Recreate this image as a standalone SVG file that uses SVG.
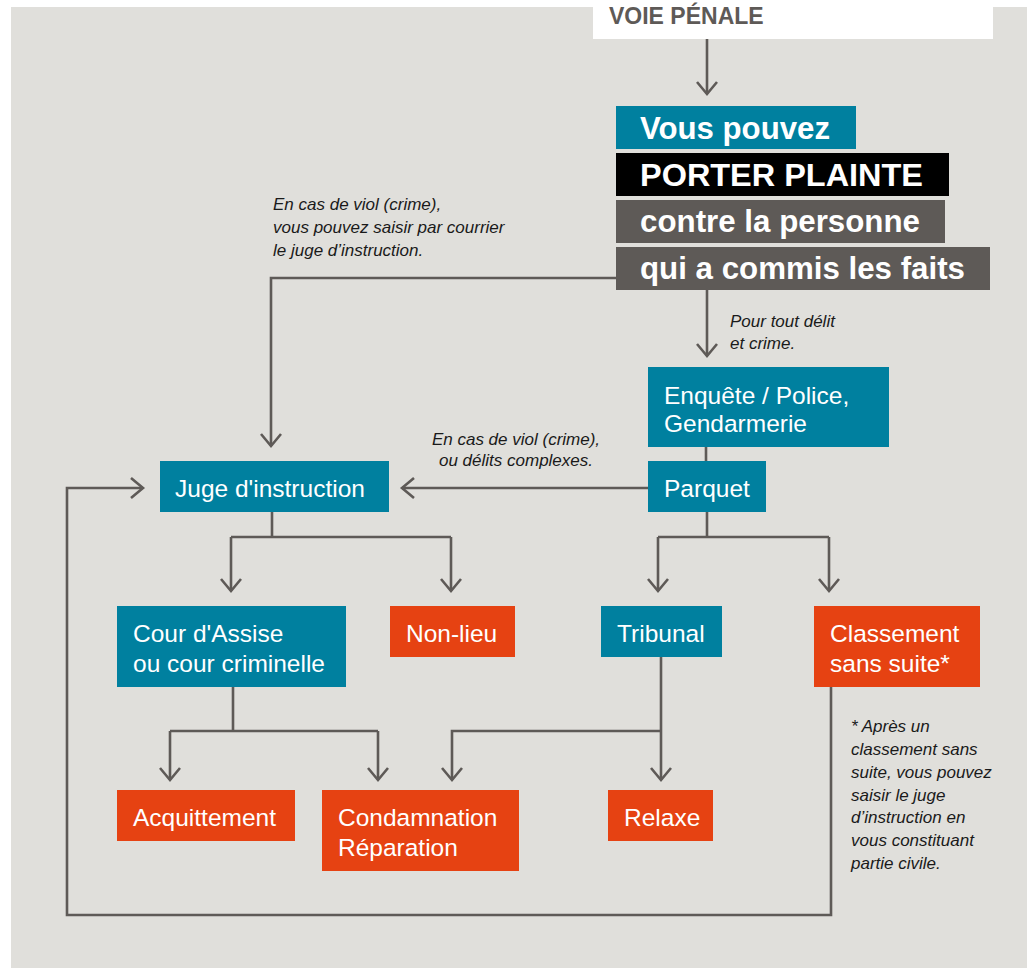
<svg xmlns="http://www.w3.org/2000/svg" width="1027" height="968" viewBox="0 0 1027 968">
  <defs>
    <style>
      .conn { fill: none; stroke: #5E5A57; stroke-width: 2.6; }
      .teal { fill: #00809F; }
      .orange { fill: #E64212; }
      .black { fill: #000000; }
      .dgray { fill: #5E5A57; }
      .lbl { font-family: "Liberation Sans", Arial, sans-serif; font-size: 24.5px; fill: #FFFFFF; }
      .big { font-family: "Liberation Sans", Arial, sans-serif; font-size: 31px; font-weight: bold; fill: #FFFFFF; }
      .note { font-family: "Liberation Sans", Arial, sans-serif; font-size: 17px; font-style: italic; fill: #1A1A1A; }
    </style>
    <marker id="arr" markerUnits="userSpaceOnUse" markerWidth="30" markerHeight="30" viewBox="-15 -15 30 30" refX="0" refY="0" orient="auto">
      <path d="M-12,-10 L0,0 L-12,10" fill="none" stroke="#5E5A57" stroke-width="2.6"/>
    </marker>
  </defs>

  <rect x="11" y="7" width="1016" height="961" fill="#E0DFDB"/>

  <g id="header">
    <rect x="593" y="0" width="400" height="39" fill="#FFFFFF"/>
    <text x="609" y="24" font-family="Liberation Sans, Arial, sans-serif" font-size="23" font-weight="bold" fill="#5E5A57">VOIE PÉNALE</text>
  </g>

  <g id="connectors">
    <path class="conn" d="M707,39 V94" marker-end="url(#arr)"/>
    <path class="conn" d="M616,278 H271 V446" marker-end="url(#arr)"/>
    <path class="conn" d="M707,290 V356" marker-end="url(#arr)"/>
    <path class="conn" d="M706,447 V461"/>
    <path class="conn" d="M648,488 H402" marker-end="url(#arr)"/>
    <path class="conn" d="M272,512 V537 M231,537 H451"/>
    <path class="conn" d="M231,537 V591" marker-end="url(#arr)"/>
    <path class="conn" d="M451,537 V591" marker-end="url(#arr)"/>
    <path class="conn" d="M707,512 V537 M658,537 H829"/>
    <path class="conn" d="M658,537 V591" marker-end="url(#arr)"/>
    <path class="conn" d="M829,537 V591" marker-end="url(#arr)"/>
    <path class="conn" d="M233,687 V731 M170,731 H378"/>
    <path class="conn" d="M170,731 V780" marker-end="url(#arr)"/>
    <path class="conn" d="M378,731 V780" marker-end="url(#arr)"/>
    <path class="conn" d="M661,657 V780" marker-end="url(#arr)"/>
    <path class="conn" d="M661,731 H452 V780" marker-end="url(#arr)"/>
    <path class="conn" d="M831,687 V915 H67 V488 H143" marker-end="url(#arr)"/>
  </g>

  <g id="plainte">
    <rect class="teal" x="616" y="106" width="240" height="43"/>
    <text class="big" x="640" y="139" textLength="190" lengthAdjust="spacingAndGlyphs">Vous pouvez</text>
    <rect class="black" x="616" y="153" width="333" height="43"/>
    <text class="big" x="640" y="186" textLength="283" lengthAdjust="spacingAndGlyphs">PORTER PLAINTE</text>
    <rect class="dgray" x="616" y="200" width="329" height="43"/>
    <text class="big" x="640" y="232" textLength="280" lengthAdjust="spacingAndGlyphs">contre la personne</text>
    <rect class="dgray" x="616" y="247" width="374" height="43"/>
    <text class="big" x="640" y="279" textLength="325" lengthAdjust="spacingAndGlyphs">qui a commis les faits</text>
  </g>

  <g id="note-courrier">
    <text class="note" x="273" y="210">En cas de viol (crime),</text>
    <text class="note" x="273" y="233">vous pouvez saisir par courrier</text>
    <text class="note" x="273" y="256">le juge d’instruction.</text>
  </g>

  <g id="note-delit">
    <text class="note" x="730" y="327">Pour tout délit</text>
    <text class="note" x="730" y="349">et crime.</text>
  </g>

  <g id="enquete">
    <rect class="teal" x="648" y="367" width="241" height="80"/>
    <text class="lbl" x="664" y="404">Enquête / Police,</text>
    <text class="lbl" x="664" y="432">Gendarmerie</text>
  </g>

  <g id="parquet">
    <rect class="teal" x="648" y="461" width="118" height="51"/>
    <text class="lbl" x="664" y="497">Parquet</text>
  </g>

  <g id="note-complexes">
    <text class="note" x="516" y="445" text-anchor="middle">En cas de viol (crime),</text>
    <text class="note" x="516" y="466" text-anchor="middle">ou délits complexes.</text>
  </g>

  <g id="juge">
    <rect class="teal" x="160" y="461" width="229" height="51"/>
    <text class="lbl" x="175" y="497">Juge d'instruction</text>
  </g>

  <g id="cour">
    <rect class="teal" x="117" y="606" width="229" height="81"/>
    <text class="lbl" x="133" y="642">Cour d'Assise</text>
    <text class="lbl" x="133" y="672">ou cour criminelle</text>
  </g>

  <g id="nonlieu">
    <rect class="orange" x="390" y="606" width="125" height="51"/>
    <text class="lbl" x="406" y="642">Non-lieu</text>
  </g>

  <g id="tribunal">
    <rect class="teal" x="601" y="606" width="121" height="51"/>
    <text class="lbl" x="617" y="642">Tribunal</text>
  </g>

  <g id="classement">
    <rect class="orange" x="814" y="606" width="166" height="81"/>
    <text class="lbl" x="830" y="642">Classement</text>
    <text class="lbl" x="830" y="672">sans suite*</text>
  </g>

  <g id="acquittement">
    <rect class="orange" x="117" y="790" width="178" height="51"/>
    <text class="lbl" x="133" y="826">Acquittement</text>
  </g>

  <g id="condamnation">
    <rect class="orange" x="322" y="790" width="197" height="81"/>
    <text class="lbl" x="338" y="826">Condamnation</text>
    <text class="lbl" x="338" y="856">Réparation</text>
  </g>

  <g id="relaxe">
    <rect class="orange" x="608" y="790" width="105" height="51"/>
    <text class="lbl" x="624" y="826">Relaxe</text>
  </g>

  <g id="note-classement">
    <text class="note" x="851" y="732">* Après un</text>
    <text class="note" x="851" y="755">classement sans</text>
    <text class="note" x="851" y="778">suite, vous pouvez</text>
    <text class="note" x="851" y="801">saisir le juge</text>
    <text class="note" x="851" y="823">d’instruction en</text>
    <text class="note" x="851" y="846">vous constituant</text>
    <text class="note" x="851" y="869">partie civile.</text>
  </g>
</svg>
